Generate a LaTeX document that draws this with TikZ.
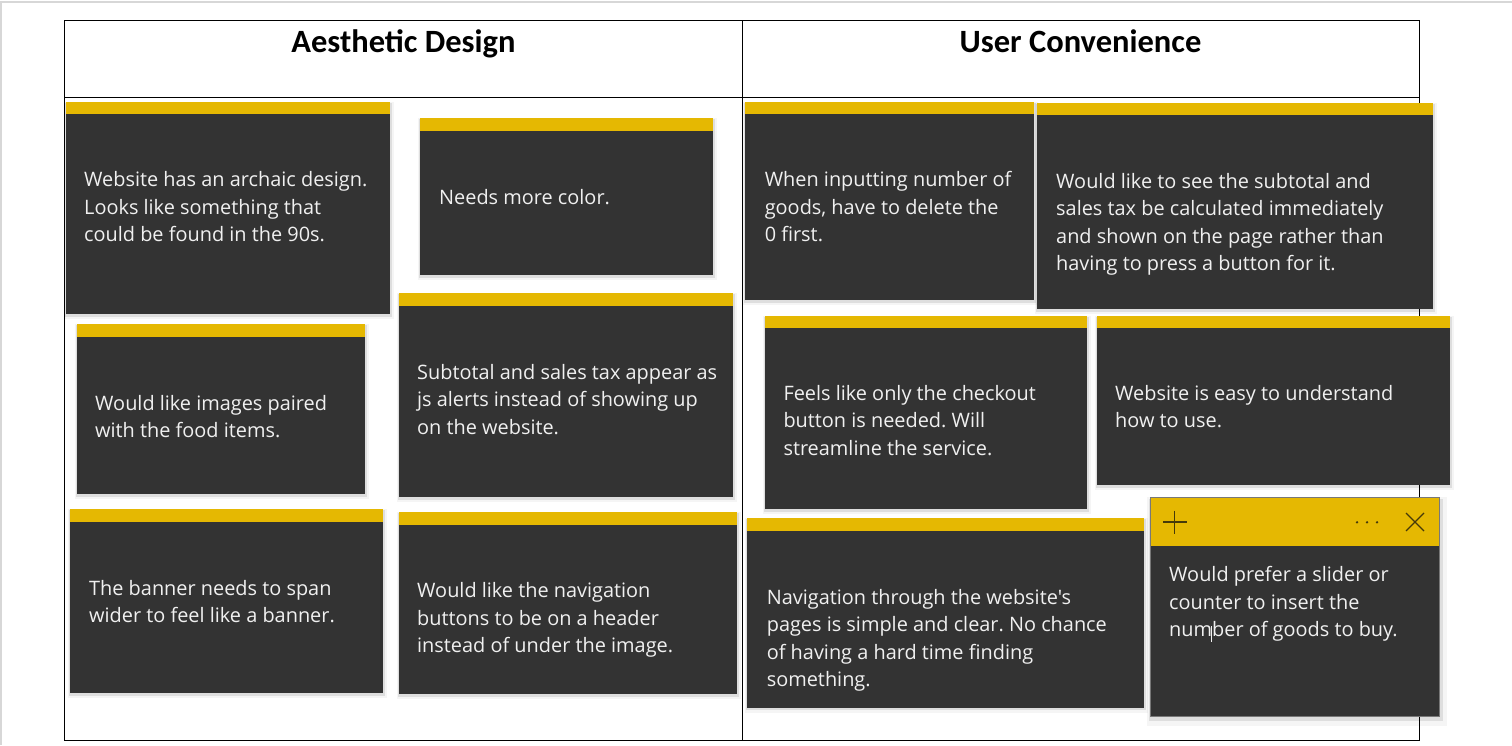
\documentclass[tikz,border=0pt]{standalone}
\usepackage{fontspec}
\setmainfont{Carlito}
\newfontfamily\notefont{Open Sans}
\frenchspacing
\definecolor{notebody}{RGB}{51,51,51}
\definecolor{noteyellow}{RGB}{229,184,2}
\definecolor{notetext}{RGB}{240,240,240}
\definecolor{iconcol}{RGB}{70,58,10}
\definecolor{pagegray}{RGB}{215,215,215}
\definecolor{appborder}{RGB}{120,120,120}
\tikzset{
  tableline/.style={draw=black, line width=1pt},
  pageline/.style={draw=pagegray, line width=1.2pt},
  shadowA/.style={fill=black, opacity=0.04},
  shadowB/.style={fill=black, opacity=0.09},
  notelabel/.style={anchor=base west, inner sep=0pt, text=notetext,
    font=\notefont\fontsize{19.9}{27.5}\selectfont},
  header/.style={anchor=base, inner sep=0pt, font=\bfseries\fontsize{32.5}{36}\selectfont},
  iconline/.style={draw=iconcol, line width=1.3pt},
}
% #1 x1, #2 y1, #3 x2, #4 y2, #5 name, #6 text x, #7 first baseline, #8 text
\newcommand\stickynote[8]{%
  \fill[shadowA] (#1-2,#2) rectangle (#3+4,#4+5);
  \fill[shadowB] (#1-1,#2+1) rectangle (#3+2,#4+2.5);
  \fill[notebody] (#1,#2) rectangle (#3,#4);
  \fill[noteyellow] (#1,#2) rectangle (#3,#2+12.5);
  \node[notelabel] (#5) at (#6,#7) {\frenchspacing\begin{tabular}[t]{@{}l@{}}#8\end{tabular}};
}
\begin{document}
\begin{tikzpicture}[x=1pt,y=-1pt]
\useasboundingbox (0,0) rectangle (1512,745);
\fill[white] (0,0) rectangle (1512,745);
% page edge
\draw[pageline] (0,2) -- (1512,2);
\draw[pageline] (1,2) -- (1,745);
% table
\draw[tableline] (64,20) rectangle (1419,740);
\draw[tableline] (742,20) -- (742,740);
\draw[tableline] (64,97) -- (1419,97);
\node[header] (h1) at (403.5,52) {Aesthetic Design};
\node[header] (h2) at (1080.5,52) {User Convenience};
% left column
\stickynote{66}{101.5}{390}{314}{n1}{84}{186.7}{Website has an archaic design.\\Looks like something that\\could be found in the 90s.}
\stickynote{420}{118}{713}{275}{n2}{439}{204}{Needs more color.}
\stickynote{77}{324}{365}{494}{n3}{95}{410}{Would like images paired\\with the food items.}
\stickynote{398.5}{293}{733}{497}{n4}{417}{379}{Subtotal and sales tax appear as\\js alerts instead of showing up\\on the website.}
\stickynote{70}{509}{383}{693}{n5}{89}{595}{The banner needs to span\\wider to feel like a banner.}
\stickynote{398.5}{512}{737}{694}{n6}{417}{597.7}{Would like the navigation\\buttons to be on a header\\instead of under the image.}
% right column
\stickynote{745}{101.5}{1034}{300}{n7}{764.6}{186.7}{When inputting number of\\goods, have to delete the\\0 first.}
\stickynote{1037}{102.7}{1433}{309}{n8}{1056}{188.3}{Would like to see the subtotal and\\sales tax be calculated immediately\\and shown on the page rather than\\having to press a button for it.}
\stickynote{764.6}{315.7}{1087}{509}{n9}{783.3}{400}{Feels like only the checkout\\button is needed. Will\\streamline the service.}
\stickynote{1096.5}{315.7}{1450}{485}{n10}{1115}{400}{Website is easy to understand\\how to use.}
\stickynote{747.4}{518.3}{1144}{707.7}{n11}{766.6}{604}{Navigation through the website's\\pages is simple and clear. No chance\\of having a hard time finding\\something.}
% open sticky note window
\fill[shadowA] (1147,497) rectangle (1447,726);
\fill[shadowB] (1149,499) rectangle (1443,721);
\fill[notebody] (1150.6,497.3) rectangle (1439,716);
\fill[noteyellow] (1150.6,497.3) rectangle (1439,546);
\draw[appborder, line width=0.8pt] (1150.6,497.3) rectangle (1439,716);
\draw[iconline] (1163,522) -- (1186.5,522);
\draw[iconline] (1174.7,510.5) -- (1174.7,534);
\fill[iconcol] (1357,522.3) circle (1.3) (1367,522.3) circle (1.3) (1377,522.3) circle (1.3);
\draw[iconline] (1406,513) -- (1424,531);
\draw[iconline] (1406,531) -- (1424,513);
\node[notelabel] (n12) at (1169,581.7) {\begin{tabular}[t]{@{}l@{}}Would prefer a slider or\\counter to insert the\\number of goods to buy.\end{tabular}};
\coordinate (cursortop) at (1211.7,626);
\coordinate (cursorbot) at (1211.7,642);
\draw[notetext, line width=0.9pt] (cursortop) -- (cursorbot);
\end{tikzpicture}
\end{document}
